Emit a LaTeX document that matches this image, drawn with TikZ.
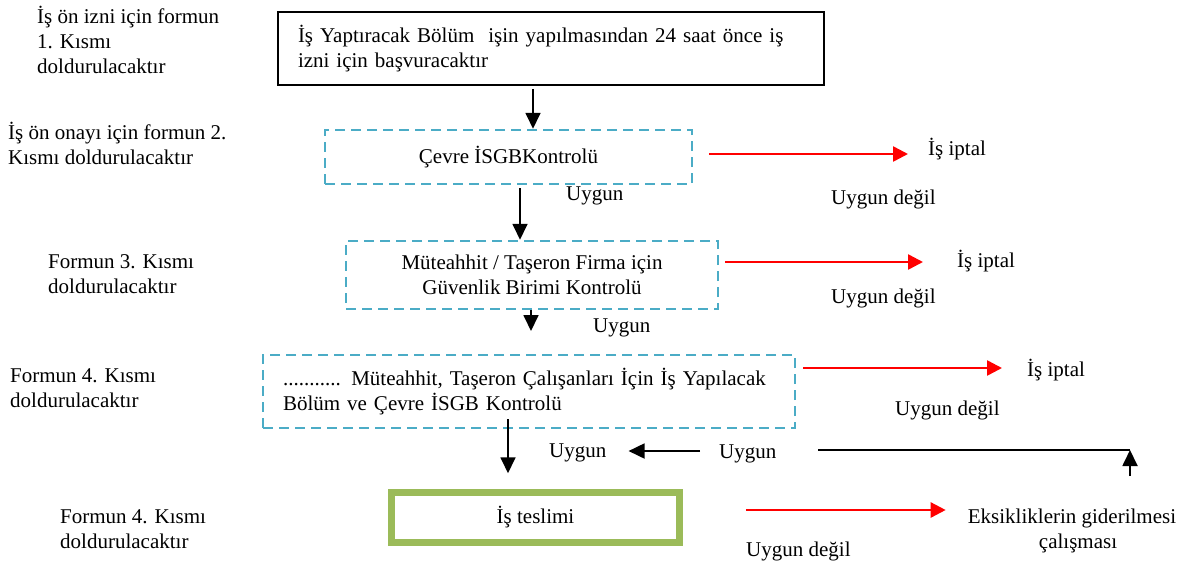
\documentclass[tikz,border=0pt]{standalone}
\usepackage{fontspec}
\setmainfont{Liberation Serif}
\usetikzlibrary{arrows.meta,calc}
\definecolor{dashblue}{HTML}{4BACC6}
\definecolor{boxgreen}{HTML}{9BBB59}
\begin{document}
\begin{tikzpicture}[x=1pt,y=-1pt,
  every node/.style={font=\fontsize{21}{25}\selectfont},
  lbl/.style={anchor=base west,inner sep=0pt,align=left},
  solidbox/.style={draw=black,line width=1.8pt,inner xsep=20pt,inner ysep=0pt},
  dashbox/.style={draw=dashblue,line width=2.5pt,dash pattern=on 10pt off 6pt,inner xsep=20pt,inner ysep=0pt},
  greenbox/.style={draw=boxgreen,line width=6.5pt,inner sep=0pt},
  arr/.style={draw=black,line width=1.8pt,-{Triangle[length=16pt,width=15pt]}},
  redarr/.style={draw=red,line width=2.5pt,-{Triangle[length=15pt,width=15pt]}},
  plain/.style={draw=black,line width=1.8pt}]
\useasboundingbox (0,0) rectangle (1191,563);

% left column: which part of the form is filled in (placed by last baseline)
\node[lbl] (f1) at (37,73) {İş ön izni için formun\\1. Kısmı\\doldurulacaktır};
\node[lbl] (f2) at (8,164) {İş ön onayı için formun 2.\\Kısmı doldurulacaktır};
\node[lbl] (f3) at (48,293) {Formun 3. Kısmı\\doldurulacaktır};
\node[lbl] (f4) at (10,407) {Formun 4. Kısmı\\doldurulacaktır};
\node[lbl] (f5) at (60,548) {Formun 4. Kısmı\\doldurulacaktır};

% main flow boxes
\node[solidbox,minimum width=546pt,minimum height=73pt,text width=506pt,align=left] (b1) at (551,48.5)
  {İş Yaptıracak Bölüm \ işin yapılmasından 24 saat önce iş\\izni için başvuracaktır};
\node[dashbox,minimum width=367pt,minimum height=54pt,align=center] (b2) at (508.5,157) {Çevre İSGBKontrolü};
\node[dashbox,minimum width=372pt,minimum height=68pt,align=center] (b3) at (532,275)
  {Müteahhit / Taşeron Firma için\\Güvenlik Birimi Kontrolü};
\node[dashbox,minimum width=532pt,minimum height=73pt,text width=492pt,align=left] (b4) at (529,391.5)
  {........... Müteahhit, Taşeron Çalışanları İçin İş Yapılacak\\Bölüm ve Çevre İSGB Kontrolü};
\node[greenbox,minimum width=288pt,minimum height=50pt] (b5) at (535.5,517.5) {İş teslimi};

% outcome labels
\node[lbl] (ip1) at (928,155) {İş iptal};
\node[lbl] (ip2) at (957,267) {İş iptal};
\node[lbl] (ip3) at (1027,376) {İş iptal};
\node[anchor=base,inner sep=0pt,align=center] (eks) at (1072,548) {Eksikliklerin giderilmesi\\\hspace*{12pt}çalışması};

\node[lbl] (ud1) at (831,204) {Uygun değil};
\node[lbl] (ud2) at (831,303) {Uygun değil};
\node[lbl] (ud3) at (895,415) {Uygun değil};
\node[lbl] (ud4) at (746,556) {Uygun değil};

\node[lbl] (uy1) at (566,200) {Uygun};
\node[lbl] (uy2) at (593,332) {Uygun};
\node[lbl] (uy3) at (549,457) {Uygun};
\node[lbl] (uy4) at (719,458) {Uygun};

% free ends of the connectors
\coordinate (c3) at (531,331);
\coordinate (corner) at (1130,450);
\coordinate (upstart) at (1130,476);

% downward flow
\draw[arr] ([xshift=-18pt,yshift=-3pt]b1.south) -- ([xshift=-18pt]b1.south |- b2.north);
\draw[arr] ([xshift=11.5pt,yshift=-3pt]b2.south) -- ([xshift=11.5pt]b2.south |- b3.north);
\draw[arr] (c3 |- b3.south) -- (c3);
\draw[arr] ([xshift=-21pt,yshift=10pt]b4.south) -- ([xshift=-21pt,yshift=16pt]b4.south |- b5.north);

% rejections
\draw[redarr] ([xshift=16pt,yshift=3pt]b2.east) -- ([xshift=-20pt,yshift=3pt]b2.east -| ip1.west);
\draw[redarr] ([xshift=6pt,yshift=13pt]b3.east) -- ([xshift=-34pt,yshift=13pt]b3.east -| ip2.west);
\draw[redarr] ([xshift=7pt,yshift=23.5pt]b4.east) -- ([xshift=-25pt,yshift=23.5pt]b4.east -| ip3.west);
\draw[redarr] ([xshift=63pt,yshift=7.5pt]b5.east) -- ([xshift=-22pt,yshift=7.5pt]b5.east -| eks.west);

% return path after the deficiencies are fixed
\draw[arr] (upstart) -- (corner);
\draw[plain] (818,450) -- (corner);
\draw[arr] (700,451) -- ([xshift=22pt]uy3.east |- 0,451);
\end{tikzpicture}
\end{document}
